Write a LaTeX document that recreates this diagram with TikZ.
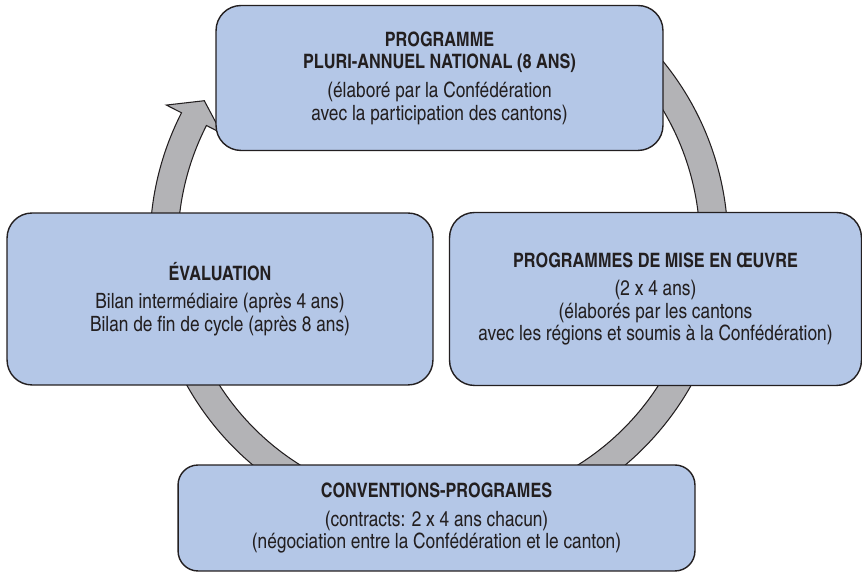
\documentclass[tikz,border=0pt]{standalone}
\usepackage{fontspec}
\setmainfont{texgyreheroscn}[Extension=.otf, UprightFont=*-regular, BoldFont=*-bold]
\usepackage{tikz}
\definecolor{boxblue}{RGB}{180,199,231}
\definecolor{ringgray}{RGB}{179,179,182}
\definecolor{inkgray}{RGB}{35,31,32}
\tikzset{
    every node/.style={text=inkgray, align=center, inner sep=0pt,
    	font=\fontsize{12}{12.6}\selectfont}
}
\tikzset{
    stagebox/.style={draw=inkgray, line width=0.8pt, fill=boxblue, rounded corners=0.5cm}
}
\tikzset{
	cyclering/.style={draw=inkgray, line width=0.6pt, fill=ringgray}
}
\newcommand{\hd}[1]{{\fontsize{11.3}{12.6}\selectfont\bfseries #1}}

\begin{document}
\begin{tikzpicture}[x=0.02cm, y=0.02cm]
  \useasboundingbox (0,0) rectangle (862,573);
  % cycle arrow behind the boxes
  \begin{scope}[shift={(439,329)}]
    \draw[cyclering] (50:289) arc (50:-207:289) -- (153:306) -- (148.6:275)
      -- (153:244) -- (153:261) arc (-207:50:261) -- cycle;
  \end{scope}

  \node (pn) [stagebox, minimum width=8.94cm, minimum height=2.9cm] at (439.5,495) {\hd{PROGRAMME}\\[0.4pt]\hd{PLURI-ANNUEL NATIONAL (8 ANS)}\\[3.5pt](élaboré par la Confédération\\[0.4pt]avec la participation des cantons)};
  \node (pm) [stagebox, minimum width=8.24cm, minimum height=3.46cm] at (655.5,274) {\hd{PROGRAMMES DE MISE EN ŒUVRE}\\[3.5pt](2 x 4 ans)\\(élaborés par les cantons\\avec les régions et soumis à la Confédération)};
  \node (cp) [stagebox, rounded corners=0.4cm, minimum width=10.34cm, minimum height=2.12cm] at (436.5,55) {\hd{CONVENTIONS-PROGRAMES}\\[3.5pt](contracts: 2 x 4 ans chacun)\\(négociation entre la Confédération et le canton)};
  \node (ev) [stagebox, minimum width=8.52cm, minimum height=3.44cm] at (220,274) {\hd{ÉVALUATION}\\[3.5pt]Bilan intermédiaire (après 4 ans)\\Bilan de fin de cycle (après 8 ans)};
\end{tikzpicture}
\end{document}
